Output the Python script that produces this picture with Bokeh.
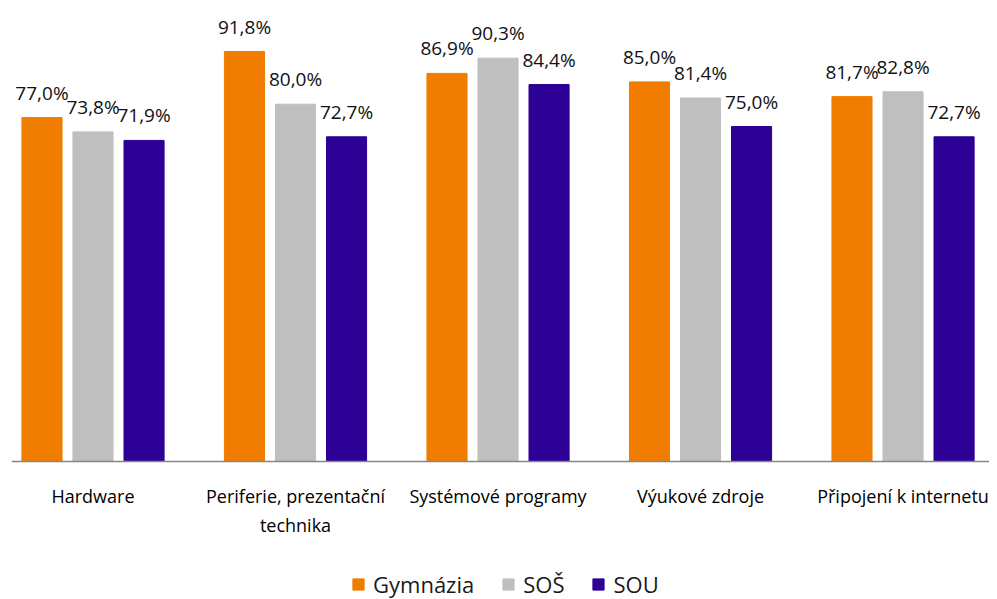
import numpy as np
from bokeh.plotting import figure
from bokeh.models import Range1d, FixedTicker, Legend, LegendItem, ColumnDataSource
from bokeh.core.properties import value
from bokeh.embed import file_html
from bokeh.resources import INLINE

categories = ["Hardware", "Periferie, prezentační\ntechnika", "Systémové programy",
              "Výukové zdroje", "Připojení k internetu"]
series_names = ["Gymnázia", "SOŠ", "SOU"]
gymnazia = [77.0, 91.8, 86.9, 85.0, 81.7]
sos = [73.8, 80.0, 90.3, 81.4, 82.8]
sou = [71.9, 72.7, 84.4, 75.0, 72.7]
colors = ["#F07D00", "#BFBFBF", "#2D0096"]

FONT = "Open Sans"
n = len(categories)
xs = np.arange(n)

p = figure(frame_width=978, frame_height=591, output_backend="svg",
           toolbar_location=None, y_axis_location=None,
           x_range=Range1d(-0.4025, 4.427), y_range=Range1d(-30.90, 101.43),
           min_border_left=11, min_border_right=0, min_border_top=8,
           min_border_bottom=0)
p.xgrid.visible = False
p.ygrid.visible = False
p.outline_line_color = None
p.background_fill_color = "white"
p.border_fill_color = "white"

offsets = [-0.252, 0.0, 0.252]
bar_w = 0.198
items = []
for name, vals, off, col in zip(series_names, [gymnazia, sos, sou], offsets, colors):
    src = ColumnDataSource(dict(x=xs + off, top=vals,
                                lab=[f"{v:.1f}".replace(".", ",") + "%" for v in vals]))
    r = p.vbar(x="x", top="top", width=bar_w, bottom=0, source=src,
               fill_color=col, line_color=col)
    p.text(x="x", y="top", text="lab", source=src, text_align="center",
           text_baseline="alphabetic", y_offset=-25, text_font=value(FONT),
           text_font_size="19px", text_color="#111111")
    items.append(LegendItem(label=name, renderers=[r]))

ax = p.xaxis[0]
ax.fixed_location = 0
ax.ticker = FixedTicker(ticks=list(xs))
ax.major_label_overrides = {int(i): c for i, c in zip(xs, categories)}
ax.major_tick_line_color = None
ax.minor_tick_line_color = None
ax.axis_line_color = "#868686"
ax.axis_line_width = 1.5
ax.major_label_standoff = 17
ax.major_label_text_font = FONT
ax.major_label_text_font_size = "18px"
ax.major_label_text_color = "#000000"

legend = Legend(items=items, orientation="horizontal", location=(340, 0),
                glyph_width=14, glyph_height=14, label_standoff=8, spacing=27,
                label_text_font=FONT, label_text_font_size="22px",
                label_text_color="#1a1a1a", border_line_color=None,
                background_fill_alpha=0, padding=0, margin=0)
p.add_layout(legend, "center")

open("out.html", "w").write(file_html(p, INLINE))
